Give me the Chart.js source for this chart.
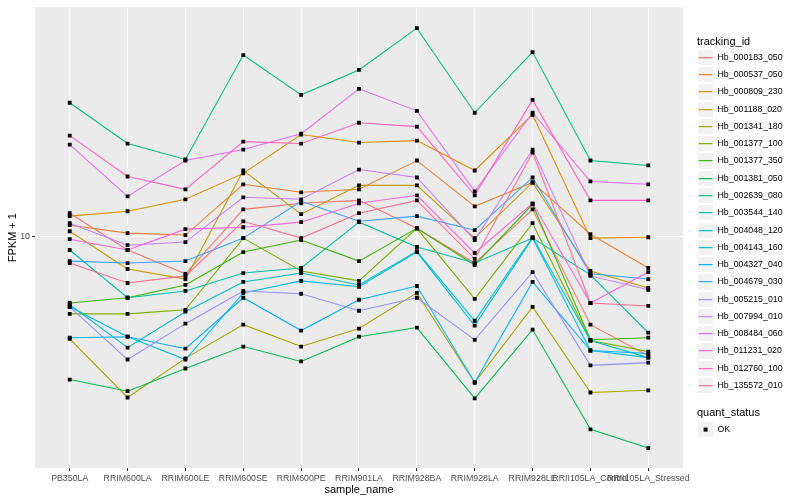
<!DOCTYPE html>
<html>
<head>
<meta charset="utf-8">
<script src="https://cdn.jsdelivr.net/npm/chart.js@4.4.1/dist/chart.umd.min.js"></script>
<style>
  body { margin: 0; background: #fff; font-family: "Liberation Sans", Arial, sans-serif; }
  #wrap { position: relative; width: 800px; height: 500px; }
  #legend { position: absolute; left: 697px; top: 0; width: 103px; height: 500px; }
  .ttl { position: absolute; left: 0; font-size: 11px; line-height: 14px; white-space: nowrap; color: #000; }
  .row { position: absolute; left: 0; height: 17.28px; white-space: nowrap; }
  .key { position: absolute; left: 0; top: 0; width: 17.28px; height: 17.28px; background: #F2F2F2; box-sizing: border-box; border: 1px solid #fff; }
  .key svg { position: absolute; left: -1px; top: -1px; }
  .lab { position: absolute; left: 20.5px; top: 0; font-size: 8.8px; line-height: 17.28px; color: #000; }
</style>
</head>
<body>
<div id="wrap">
  <canvas id="chart" width="800" height="500"></canvas>
  <div id="legend"></div>
</div>
<script>
// samples on the x axis
const sampleNames = ['PB350LA', 'RRIM600LA', 'RRIM600LE', 'RRIM600SE', 'RRIM600PE', 'RRIM901LA',
  'RRIM928BA', 'RRIM928LA', 'RRIM928LE', 'RRII105LA_Control', 'RRII105LA_Stressed'];

const trackingIds = ['Hb_000183_050', 'Hb_000537_050', 'Hb_000809_230', 'Hb_001188_020', 'Hb_001341_180',
  'Hb_001377_100', 'Hb_001377_350', 'Hb_001381_050', 'Hb_002639_080', 'Hb_003544_140', 'Hb_004048_120',
  'Hb_004143_160', 'Hb_004327_040', 'Hb_004679_030', 'Hb_005215_010', 'Hb_007994_010', 'Hb_008484_060',
  'Hb_011231_020', 'Hb_012760_100', 'Hb_135572_010'];

// FPKM + 1 per sample
const hb_000183_050 = [11.12, 9.38, 8.40, 11.32, 11.64, 11.80, 10.37, 8.83, 11.32, 6.64, 5.75];
const hb_000537_050 = [10.52, 10.14, 10.05, 12.71, 12.25, 12.42, 14.19, 11.48, 12.82, 10.09, 8.63];
const hb_000809_230 = [10.97, 11.22, 11.86, 13.37, 16.00, 15.42, 15.56, 13.55, 17.54, 9.91, 9.95];
const hb_001188_020 = [10.23, 8.59, 8.20, 13.55, 11.07, 12.65, 12.65, 9.91, 12.82, 8.51, 7.87];
const hb_001341_180 = [6.22, 4.74, 5.68, 6.64, 6.00, 6.52, 7.69, 5.08, 7.21, 4.85, 4.90];
const hb_001377_100 = [6.98, 6.98, 7.11, 9.91, 8.51, 8.13, 10.37, 7.48, 10.62, 6.17, 5.86];
const hb_001377_350 = [7.34, 7.52, 7.98, 9.29, 9.82, 8.91, 10.37, 8.75, 11.59, 6.19, 6.25];
const hb_001381_050 = [5.15, 4.88, 5.42, 6.00, 5.60, 6.28, 6.55, 4.72, 6.49, 4.09, 3.75];
const hb_002639_080 = [18.54, 15.35, 14.26, 23.12, 19.23, 21.58, 26.18, 17.70, 23.44, 14.19, 13.87];
const hb_003544_140 = [9.38, 7.52, 7.76, 8.43, 8.63, 10.67, 9.51, 8.83, 9.91, 8.36, 6.40];
const hb_004048_120 = [7.28, 5.97, 7.05, 8.09, 8.43, 7.98, 9.33, 6.76, 9.95, 6.17, 5.70];
const hb_004143_160 = [7.21, 6.28, 5.65, 7.69, 8.13, 7.91, 9.29, 6.61, 9.91, 5.89, 5.70];
const hb_004327_040 = [6.25, 6.28, 5.94, 7.52, 6.46, 7.45, 7.94, 5.08, 8.09, 5.89, 5.81];
const hb_004679_030 = [8.91, 8.83, 8.91, 9.91, 11.75, 10.71, 10.97, 10.28, 13.12, 8.40, 8.20];
const hb_005215_010 = [7.21, 5.65, 6.67, 7.76, 7.66, 7.08, 7.52, 6.19, 8.47, 5.50, 5.57];
const hb_007994_010 = [10.62, 9.59, 9.73, 11.97, 11.86, 13.61, 13.12, 9.82, 14.93, 8.32, 7.80];
const hb_008484_060 = [15.28, 12.02, 14.19, 14.93, 16.07, 19.77, 17.86, 12.30, 17.70, 12.88, 12.71];
const hb_011231_020 = [9.86, 9.38, 10.33, 10.42, 10.67, 11.64, 12.08, 9.25, 11.64, 7.34, 8.47];
const hb_012760_100 = [15.92, 13.18, 12.42, 15.49, 15.35, 16.90, 16.60, 12.08, 18.79, 11.80, 11.80];
const hb_135572_010 = [8.83, 8.05, 8.32, 10.71, 9.91, 11.12, 11.80, 9.00, 14.72, 7.34, 7.24];

const seriesValues = [hb_000183_050, hb_000537_050, hb_000809_230, hb_001188_020, hb_001341_180,
  hb_001377_100, hb_001377_350, hb_001381_050, hb_002639_080, hb_003544_140, hb_004048_120,
  hb_004143_160, hb_004327_040, hb_004679_030, hb_005215_010, hb_007994_010, hb_008484_060,
  hb_011231_020, hb_012760_100, hb_135572_010];

const yTicks = [10];

// ggplot2 default hue palette for 20 levels
const palette = ['#F8766D', '#EA8331', '#D89000', '#C09B00', '#A3A500', '#7CAE00', '#39B600', '#00BB4E',
  '#00BF7D', '#00C1A3', '#00BFC4', '#00BAE0', '#00B0F6', '#35A2FF', '#9590FF', '#C77CFF', '#E76BF3',
  '#FA62DB', '#FF62BC', '#FF6C91'];

const FONT = '"Liberation Sans", Arial, sans-serif';

const panelBg = {
  id: 'panelBg',
  beforeDraw(chart) {
    const { ctx, chartArea: a } = chart;
    ctx.save();
    ctx.fillStyle = '#EBEBEB';
    ctx.fillRect(a.left, a.top, a.right - a.left, a.bottom - a.top);
    ctx.restore();
  }
};

const toPoints = vals => vals.map((v, i) => ({ x: i, y: v }));

// lines first (later series on top), all points above every line
const datasets = seriesValues.map((vals, i) => ({
  label: trackingIds[i],
  data: toPoints(vals),
  borderColor: palette[i],
  borderWidth: 1.07,
  pointRadius: 0,
  tension: 0,
  fill: false,
  order: 100 - i
}));
datasets.push({
  label: 'OK',
  data: seriesValues.flatMap(toPoints),
  showLine: false,
  pointStyle: 'rect',
  pointRadius: 2.7,
  pointBackgroundColor: '#000',
  pointBorderWidth: 0,
  order: 0
});

new Chart(document.getElementById('chart'), {
  type: 'line',
  data: { datasets },
  options: {
    responsive: false,
    devicePixelRatio: 1,
    animation: false,
    layout: { padding: { left: 0, right: 117, top: 5, bottom: 0 } },
    plugins: { legend: { display: false }, tooltip: { enabled: false } },
    scales: {
      x: {
        type: 'linear',
        min: -0.6,
        max: 10.6,
        afterBuildTicks: s => { s.ticks = sampleNames.map((_, i) => ({ value: i })); },
        afterFit: s => { s.height = 32; },
        grid: { color: '#FFFFFF', lineWidth: 1.07, tickColor: '#333333', tickLength: 3 },
        border: { display: false },
        ticks: {
          autoSkip: false, maxRotation: 0, minRotation: 0, padding: 2,
          color: '#4D4D4D', font: { size: 8.8, family: FONT },
          callback: v => sampleNames[v]
        },
        title: { display: true, text: 'sample_name', color: '#000', font: { size: 11, family: FONT }, padding: { top: 0, bottom: 3 } }
      },
      y: {
        type: 'logarithmic',
        min: 3.42,
        max: 28.84,
        afterBuildTicks: s => { s.ticks = yTicks.map(v => ({ value: v })); },
        afterFit: s => { s.width = 35; },
        grid: { color: '#FFFFFF', lineWidth: 1.07, tickColor: '#333333', tickLength: 3 },
        border: { display: false },
        ticks: { color: '#4D4D4D', font: { size: 8.8, family: FONT }, padding: 2, callback: v => String(v) },
        title: { display: true, text: 'FPKM + 1', color: '#000', font: { size: 11, family: FONT }, padding: { top: 6, bottom: 0 } }
      }
    }
  },
  plugins: [panelBg]
});

// ggplot-style legend
const SVGNS = 'http://www.w3.org/2000/svg';
const legend = document.getElementById('legend');
function addTitle(text, top) {
  const t = document.createElement('div');
  t.className = 'ttl';
  t.style.top = top + 'px';
  t.textContent = text;
  legend.appendChild(t);
}
function addRow(top, label, color) {
  const r = document.createElement('div');
  r.className = 'row';
  r.style.top = top + 'px';
  const k = document.createElement('div');
  k.className = 'key';
  const svg = document.createElementNS(SVGNS, 'svg');
  svg.setAttribute('width', '17.28');
  svg.setAttribute('height', '17.28');
  if (color) {
    const ln = document.createElementNS(SVGNS, 'line');
    ln.setAttribute('x1', '1.8');
    ln.setAttribute('x2', '15.5');
    ln.setAttribute('y1', '8.64');
    ln.setAttribute('y2', '8.64');
    ln.setAttribute('stroke', color);
    ln.setAttribute('stroke-width', '1.2');
    svg.appendChild(ln);
  } else {
    const sq = document.createElementNS(SVGNS, 'rect');
    sq.setAttribute('x', '6.6');
    sq.setAttribute('y', '6.6');
    sq.setAttribute('width', '4');
    sq.setAttribute('height', '4');
    sq.setAttribute('fill', '#000');
    svg.appendChild(sq);
  }
  k.appendChild(svg);
  const l = document.createElement('div');
  l.className = 'lab';
  l.textContent = label;
  r.appendChild(k);
  r.appendChild(l);
  legend.appendChild(r);
}
addTitle('tracking_id', 33.5);
trackingIds.forEach((id, i) => addRow(48.7 + i * 17.28, id, palette[i]));
addTitle('quant_status', 405);
addRow(420.5, 'OK', null);
</script>
</body>
</html>
